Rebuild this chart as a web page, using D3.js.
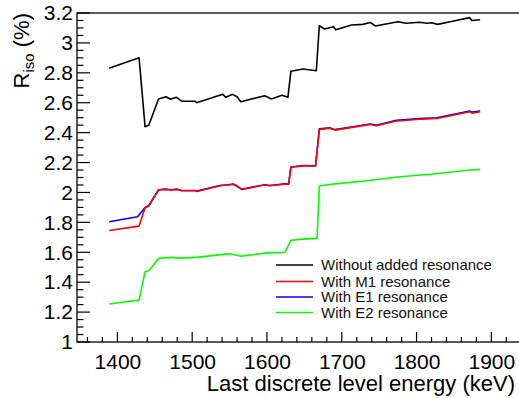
<!DOCTYPE html>
<html>
<head>
<meta charset="utf-8">
<script src="https://cdn.jsdelivr.net/npm/d3@7"></script>
<style>
  html, body { margin: 0; padding: 0; background: #fff; }
  svg { display: block; font-family: "Liberation Sans", Arial, Helvetica, sans-serif; }
</style>
</head>
<body>
<svg id="chart" width="519" height="398"></svg>
<script>
// R_iso versus the energy of the last discrete level, for four resonance assumptions
const noResEnergy = [1389, 1429, 1437, 1442, 1455, 1465, 1471, 1479, 1486, 1504, 1506, 1541, 1545, 1554, 1560, 1565, 1597, 1606, 1620, 1623, 1628, 1632, 1648, 1666, 1670, 1677, 1689, 1692, 1713, 1728, 1738, 1745, 1775, 1786, 1804, 1814, 1820, 1828, 1845, 1871, 1874, 1885];
const noResValues = [2.83, 2.90, 2.44, 2.45, 2.625, 2.64, 2.623, 2.636, 2.61, 2.61, 2.60, 2.656, 2.636, 2.656, 2.64, 2.607, 2.647, 2.625, 2.65, 2.645, 2.636, 2.81, 2.825, 2.814, 3.115, 3.093, 3.108, 3.088, 3.12, 3.124, 3.137, 3.113, 3.142, 3.131, 3.138, 3.131, 3.135, 3.124, 3.142, 3.169, 3.15, 3.155];

const m1Energy = [1389, 1429, 1437, 1442, 1455, 1464, 1472, 1480, 1486, 1504, 1506, 1537, 1548, 1555, 1559, 1566, 1597, 1604, 1624, 1629, 1632, 1648, 1665, 1670, 1684, 1691, 1738, 1746, 1773, 1804, 1827, 1871, 1874, 1885];
const m1Values = [1.746, 1.775, 1.898, 1.909, 2.016, 2.02, 2.016, 2.02, 2.011, 2.011, 2.007, 2.045, 2.05, 2.054, 2.045, 2.02, 2.05, 2.045, 2.056, 2.056, 2.168, 2.178, 2.177, 2.422, 2.429, 2.417, 2.455, 2.446, 2.478, 2.49, 2.495, 2.54, 2.53, 2.54];

const e1Energy = [1389, 1427, 1437, 1442, 1455, 1464, 1472, 1480, 1486, 1504, 1506, 1537, 1548, 1555, 1559, 1566, 1597, 1604, 1624, 1629, 1632, 1648, 1665, 1670, 1684, 1691, 1738, 1746, 1773, 1804, 1827, 1871, 1874, 1885];
const e1Values = [1.804, 1.837, 1.90, 1.911, 2.018, 2.022, 2.018, 2.022, 2.013, 2.013, 2.009, 2.047, 2.052, 2.056, 2.047, 2.022, 2.052, 2.047, 2.058, 2.058, 2.170, 2.180, 2.179, 2.425, 2.432, 2.420, 2.458, 2.450, 2.482, 2.494, 2.499, 2.545, 2.537, 2.545];

const e2Energy = [1389, 1429, 1437, 1442, 1455, 1472, 1483, 1506, 1541, 1550, 1566, 1600, 1624, 1632, 1648, 1667, 1670, 1688, 1733, 1778, 1822, 1871, 1885];
const e2Values = [1.254, 1.28, 1.47, 1.476, 1.559, 1.566, 1.561, 1.566, 1.586, 1.59, 1.574, 1.596, 1.599, 1.68, 1.688, 1.693, 2.043, 2.056, 2.078, 2.105, 2.123, 2.15, 2.154];

const legendLabels = ["Without added resonance", "With M1 resonance", "With E1 resonance", "With E2 resonance"];
const xMajorTicks = [1400, 1500, 1600, 1700, 1800, 1900];
const yMajorTicks = [1, 1.2, 1.4, 1.6, 1.8, 2, 2.2, 2.4, 2.6, 2.8, 3, 3.2];

const series = [
  { label: legendLabels[0], energy: noResEnergy, values: noResValues, color: "#000000" },
  { label: legendLabels[1], energy: m1Energy, values: m1Values, color: "#ff0000" },
  { label: legendLabels[2], energy: e1Energy, values: e1Values, color: "#0000ff" },
  { label: legendLabels[3], energy: e2Energy, values: e2Values, color: "#00ff00" }
];
// blue first so the red curve sits on top where they coincide
const drawOrder = [0, 2, 1, 3];

const svg = d3.select("#chart");
const plotLeft = 77, plotRight = 525, plotTop = 13, plotBottom = 342;

const x = d3.scaleLinear().domain([1346, 1945]).range([plotLeft, plotRight]);
const y = d3.scaleLinear().domain([1, 3.2]).range([plotBottom, plotTop]);

// curves
const line = d3.line().x(d => x(d[0])).y(d => y(d[1]));
drawOrder.forEach(i => {
  const s = series[i];
  svg.append("path")
    .datum(s.energy.map((e, k) => [e, s.values[k]]))
    .attr("d", line)
    .attr("fill", "none")
    .attr("stroke", s.color)
    .attr("stroke-width", 1.6)
    .attr("stroke-linejoin", "round");
});

// frame
svg.append("rect")
  .attr("x", plotLeft).attr("y", plotTop)
  .attr("width", plotRight - plotLeft).attr("height", plotBottom - plotTop)
  .attr("fill", "none").attr("stroke", "#000").attr("stroke-width", 1.3);

// x axis: ticks point up into the plot
const xMinor = d3.range(1360, 1945, 20).filter(v => v % 100 !== 0);
const xAxis = d3.axisBottom(x).tickValues(xMajorTicks).tickSize(0).tickPadding(12).tickFormat(d3.format("d"));
const gx = svg.append("g").attr("transform", `translate(0,${plotBottom})`).call(xAxis);
gx.select(".domain").remove();
gx.selectAll("text").attr("font-size", 21).attr("fill", "#000").attr("font-family", "'Liberation Sans', Arial, sans-serif");
svg.append("g").selectAll("line").data(xMajorTicks).join("line")
  .attr("x1", d => x(d)).attr("x2", d => x(d))
  .attr("y1", plotBottom).attr("y2", plotBottom - 10)
  .attr("stroke", "#000").attr("stroke-width", 1.2);
svg.append("g").selectAll("line").data(xMinor).join("line")
  .attr("x1", d => x(d)).attr("x2", d => x(d))
  .attr("y1", plotBottom).attr("y2", plotBottom - 5)
  .attr("stroke", "#000").attr("stroke-width", 1.2);

// y axis: ticks point right into the plot
const yMinor = d3.range(1.05, 3.2, 0.05).filter(v => Math.abs(v * 5 - Math.round(v * 5)) > 1e-6);
const yAxis = d3.axisLeft(y).tickValues(yMajorTicks).tickSize(0).tickPadding(4).tickFormat(d => String(+d.toFixed(1)));
const gy = svg.append("g").attr("transform", `translate(${plotLeft},0)`).call(yAxis);
gy.select(".domain").remove();
gy.selectAll("text").attr("font-size", 21).attr("fill", "#000").attr("font-family", "'Liberation Sans', Arial, sans-serif");
svg.append("g").selectAll("line").data(yMajorTicks).join("line")
  .attr("x1", plotLeft).attr("x2", plotLeft + 13)
  .attr("y1", d => y(d)).attr("y2", d => y(d))
  .attr("stroke", "#000").attr("stroke-width", 1.2);
svg.append("g").selectAll("line").data(yMinor).join("line")
  .attr("x1", plotLeft).attr("x2", plotLeft + 6.5)
  .attr("y1", d => y(d)).attr("y2", d => y(d))
  .attr("stroke", "#000").attr("stroke-width", 1.2);

// axis titles
svg.append("text")
  .attr("x", 515).attr("y", 391)
  .attr("text-anchor", "end")
  .attr("font-size", 22)
  .text("Last discrete level energy (keV)");

const yTitle = svg.append("text")
  .attr("transform", "translate(28.5,13) rotate(-90)")
  .attr("text-anchor", "end")
  .attr("font-size", 22);
yTitle.append("tspan").text("R");
yTitle.append("tspan").attr("font-size", 15).attr("dy", 5).text("iso");
yTitle.append("tspan").attr("dy", -5).text(" (%)");

// legend
const legendRows = [265, 281.5, 297, 312.5];
const legend = svg.append("g");
series.forEach((s, i) => {
  legend.append("line")
    .attr("x1", 276).attr("x2", 313)
    .attr("y1", legendRows[i]).attr("y2", legendRows[i])
    .attr("stroke", s.color).attr("stroke-width", 1.6);
  legend.append("text")
    .attr("x", 321).attr("y", legendRows[i])
    .attr("dy", "0.36em")
    .attr("font-size", 15)
    .attr("fill", "#111")
    .text(s.label);
});
</script>
</body>
</html>
